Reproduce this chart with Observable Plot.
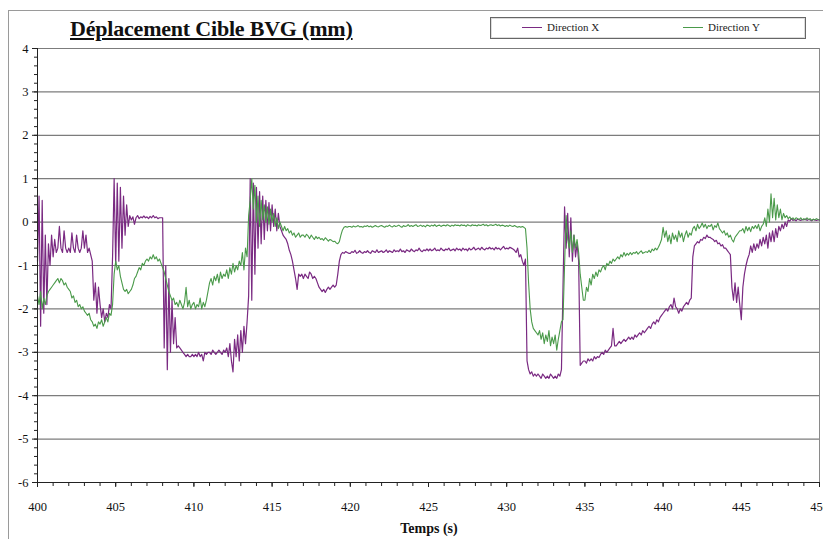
<!DOCTYPE html>
<html>
<head>
<meta charset="utf-8">
<script src="https://cdn.jsdelivr.net/npm/d3@7"></script>
<script src="https://cdn.jsdelivr.net/npm/@observablehq/plot@0.6"></script>
<style>
  html, body { margin: 0; padding: 0; background: #fff; }
  body { width: 823px; height: 539px; overflow: hidden; position: relative; font-family: "Liberation Serif", serif; }
  #outer { position: absolute; left: 8px; top: 10px; width: 900px; height: 700px; border: 1px solid #9a9a9a; }
  #chart { position: absolute; left: 0; top: 0; }
  #title { position: absolute; left: 70px; top: 16px; font: bold 22px "Liberation Serif", serif; text-decoration: underline; color: #111; white-space: nowrap; letter-spacing: -0.2px; }
  #legend { position: absolute; left: 490px; top: 17px; width: 314px; height: 20px; border: 1px solid #666; box-shadow: inset 0 0 0 1px #ddd; background: #fff; font: 11px "Liberation Serif", serif; color: #222; }
  .item { position: absolute; top: 3px; white-space: nowrap; }
  .sw { display: inline-block; width: 20px; height: 0; border-top: 1px solid; vertical-align: middle; margin-right: 5px; position: relative; top: -1px; }
  #xlabel { position: absolute; left: 0; width: 858px; text-align: center; top: 521px; font: bold 14px "Liberation Serif", serif; color: #111; }
</style>
</head>
<body>
<div id="outer"></div>
<div id="chart"></div>
<div id="title">Déplacement Cible BVG (mm)</div>
<div id="legend">
  <div class="item" style="left:31px"><span class="sw" style="border-color:#7a2a82"></span>Direction X</div>
  <div class="item" style="left:192px"><span class="sw" style="border-color:#4a9a4a"></span>Direction Y</div>
</div>
<div id="xlabel">Temps (s)</div>
<script>
// Time axis: samples every 0.1 s starting at 400 s
const tStart = 400;
const tStep = 0.1;

// Direction X (purple), one row per second (10 samples)
const dirX = [
  -0.9, 0.6, -2.4, 0.5, -2.1, -0.3, -1.9, -0.5, -1.0, -0.3,
  -0.8, -0.4, -0.7, -0.6, -0.1, -0.6, -0.7, -0.2, -0.6, -0.7,
  -0.6, -0.7, -0.25, -0.6, -0.7, -0.3, -0.6, -0.7, -0.6, -0.2,
  -0.6, -0.3, -0.7, -0.6, -0.75, -0.9, -1.8, -1.4, -2.1, -1.5,
  -1.9, -2.2, -2.0, -2.3, -2.1, -2.2, -1.9, -2.0, -0.8, 1.0,
  -1.0, 0.9, -0.9, 0.8, -0.6, 0.6, -0.3, 0.4, -0.1, 0.15,
  0.05, 0.12, -0.05, 0.1, 0.15, 0.08, 0.12, 0.1, 0.14, 0.1,
  0.12, 0.08, 0.13, 0.1, 0.15, 0.1, 0.12, 0.08, 0.1, 0.1,
  0.1, -2.9, -1.0, -3.4, -1.3, -3.0, -1.8, -2.8, -2.2, -2.9,
  -2.85, -2.9, -2.95, -3.0, -3.05, -3.1, -3.05, -3.1, -3.1, -3.05,
  -3.1, -3.05, -3.1, -3.0, -3.1, -3.05, -3.2, -3.0, -3.05, -3.0,
  -3.0, -3.05, -2.95, -3.0, -3.05, -3.0, -2.95, -3.0, -3.05, -2.95,
  -3.0, -2.9, -3.1, -2.8, -3.2, -3.45, -2.7, -3.1, -2.6, -3.2,
  -2.5, -3.0, -2.4, -2.8, -2.3, -1.7, 1.0, -1.8, 0.9, -1.2,
  0.8, -0.6, 0.7, -0.5, 0.6, -0.4, 0.5, -0.2, 0.45, -0.2,
  0.4, -0.1, 0.3, -0.2, 0.2, -0.1, -0.2, -0.3, -0.35, -0.4,
  -0.5, -0.65, -0.75, -0.9, -1.1, -1.3, -1.55, -1.2, -1.25, -1.2,
  -1.3, -1.2, -1.25, -1.3, -1.15, -1.2, -1.3, -1.25, -1.3, -1.4,
  -1.5, -1.55, -1.6, -1.55, -1.62, -1.55, -1.5, -1.55, -1.5, -1.45,
  -1.5, -1.45, -1.2, -0.9, -0.75, -0.7, -0.72, -0.68, -0.7, -0.72,
  -0.72, -0.68, -0.7, -0.65, -0.72, -0.7, -0.66, -0.7, -0.72, -0.68,
  -0.7, -0.66, -0.7, -0.72, -0.66, -0.68, -0.7, -0.64, -0.7, -0.68,
  -0.66, -0.7, -0.68, -0.64, -0.7, -0.66, -0.68, -0.7, -0.64, -0.68,
  -0.66, -0.68, -0.62, -0.68, -0.66, -0.7, -0.64, -0.66, -0.68, -0.62,
  -0.66, -0.68, -0.64, -0.66, -0.6, -0.66, -0.68, -0.64, -0.66, -0.62,
  -0.66, -0.62, -0.66, -0.64, -0.6, -0.66, -0.64, -0.66, -0.6, -0.64,
  -0.66, -0.62, -0.64, -0.6, -0.66, -0.64, -0.62, -0.66, -0.6, -0.64,
  -0.62, -0.66, -0.6, -0.64, -0.62, -0.66, -0.6, -0.64, -0.62, -0.58,
  -0.64, -0.62, -0.6, -0.64, -0.58, -0.62, -0.64, -0.6, -0.62, -0.58,
  -0.62, -0.6, -0.64, -0.58, -0.62, -0.6, -0.64, -0.6, -0.56, -0.62,
  -0.6, -0.62, -0.58, -0.6, -0.62, -0.65, -0.7, -0.6, -0.8, -0.75,
  -0.9, -1.0, -0.85, -3.2, -3.4, -3.5, -3.45, -3.55, -3.5, -3.55,
  -3.5, -3.55, -3.6, -3.5, -3.55, -3.6, -3.55, -3.6, -3.5, -3.55,
  -3.6, -3.55, -3.6, -3.5, -3.55, -3.4, -1.5, 0.35, -0.6, 0.2,
  -0.8, 0.1, -0.9, -0.3, -0.8, -0.5, -0.9, -3.3, -3.25, -3.2,
  -3.2, -3.25, -3.15, -3.2, -3.15, -3.2, -3.1, -3.15, -3.1, -3.12,
  -3.05, -3.0, -3.05, -2.95, -3.0, -2.95, -2.9, -2.85, -2.45, -2.85,
  -2.85, -2.8, -2.75, -2.8, -2.75, -2.7, -2.75, -2.7, -2.65, -2.7,
  -2.65, -2.7, -2.6, -2.65, -2.6, -2.55, -2.6, -2.5, -2.55, -2.5,
  -2.45, -2.4, -2.45, -2.35, -2.3, -2.35, -2.25, -2.3, -2.2, -2.15,
  -2.1, -2.05, -2.0, -2.05, -1.95, -1.9, -2.0, -1.75, -1.95, -2.0,
  -2.1, -2.0, -2.05, -1.95, -1.9, -1.85, -1.9, -1.8, -1.75, -0.8,
  -0.55, -0.5, -0.45, -0.48, -0.4, -0.42, -0.35, -0.38, -0.3, -0.35,
  -0.35, -0.38, -0.4, -0.45, -0.42, -0.5, -0.48, -0.55, -0.52, -0.6,
  -0.6, -0.65, -0.7, -0.75, -1.5, -1.8, -1.4, -1.85, -1.5, -1.9,
  -2.25, -1.5, -1.2, -1.0, -0.85, -0.75, -0.55, -0.7, -0.5, -0.65,
  -0.5, -0.6, -0.4, -0.55, -0.35, -0.5, -0.3, -0.6, -0.25, -0.45,
  -0.2, -0.45, -0.15, -0.35, -0.1, -0.2, -0.05, -0.15, 0.0, -0.1,
  0.05, 0.02, 0.08, 0.04, 0.06, 0.03, 0.07, 0.05, 0.04, 0.06,
  0.05, 0.07, 0.04, 0.06, 0.05, 0.03, 0.06, 0.05, 0.04, 0.05,
  0.05
];

// Direction Y (green), one row per second (10 samples)
const dirY = [
  -1.7, -1.9, -1.6, -2.0, -1.75, -1.9, -1.7, -1.6, -1.55, -1.5,
  -1.45, -1.4, -1.35, -1.3, -1.4, -1.3, -1.35, -1.45, -1.4, -1.5,
  -1.55, -1.6, -1.75, -1.7, -1.85, -1.8, -1.95, -1.9, -2.0, -1.95,
  -2.05, -2.1, -2.15, -2.1, -2.25, -2.3, -2.4, -2.35, -2.45, -2.3,
  -2.35, -2.25, -2.4, -2.3, -2.2, -2.3, -2.1, -2.15, -1.9, -1.2,
  -0.9, -1.1, -1.0, -1.25, -1.4, -1.55, -1.6, -1.55, -1.65, -1.6,
  -1.55, -1.45, -1.3, -1.25, -1.15, -1.05, -1.1, -0.95, -1.0, -0.9,
  -0.85, -0.9, -0.8, -0.85, -0.75, -0.85, -0.8, -0.9, -0.85, -0.95,
  -1.05, -1.15, -1.3, -1.45, -1.6, -1.7, -1.8, -1.75, -1.9, -1.85,
  -1.95, -1.8, -1.9, -2.0, -1.85, -1.5, -1.95, -1.8, -2.0, -1.9,
  -1.85, -2.0, -1.9, -1.95, -1.75, -2.0, -1.85, -1.95, -1.8, -1.6,
  -1.4, -1.3, -1.45, -1.25, -1.35, -1.2, -1.4, -1.15, -1.3, -1.2,
  -1.25, -1.1, -1.3, -1.05, -1.2, -0.95, -1.15, -1.0, -1.1, -0.9,
  -1.0, -0.7, -1.1, -0.6, -0.8, 0.15, 0.5, 1.0, 0.3, 0.85,
  0.0, 0.6, -0.1, 0.5, 0.05, 0.4, 0.0, 0.35, -0.05, 0.3,
  0.0, 0.2, -0.1, 0.1, -0.15, 0.0, -0.1, -0.2, -0.1, -0.2,
  -0.15, -0.25, -0.2, -0.3, -0.25, -0.35, -0.3, -0.25, -0.35, -0.3,
  -0.3, -0.35, -0.28, -0.32, -0.38, -0.3, -0.35, -0.4, -0.33, -0.38,
  -0.35, -0.4, -0.38, -0.42, -0.36, -0.4, -0.44, -0.4, -0.42, -0.45,
  -0.44, -0.48, -0.5, -0.45, -0.3, -0.18, -0.12, -0.1, -0.12, -0.1,
  -0.1, -0.12, -0.09, -0.11, -0.1, -0.08, -0.11, -0.1, -0.12, -0.09,
  -0.1, -0.08, -0.11, -0.09, -0.12, -0.1, -0.08, -0.1, -0.11, -0.09,
  -0.08, -0.1, -0.12, -0.09, -0.1, -0.07, -0.1, -0.11, -0.08, -0.1,
  -0.09, -0.07, -0.1, -0.12, -0.08, -0.1, -0.09, -0.06, -0.1, -0.08,
  -0.1, -0.08, -0.06, -0.1, -0.09, -0.07, -0.1, -0.08, -0.11, -0.07,
  -0.08, -0.1, -0.07, -0.09, -0.06, -0.1, -0.08, -0.07, -0.1, -0.08,
  -0.07, -0.09, -0.06, -0.08, -0.1, -0.07, -0.09, -0.06, -0.08, -0.07,
  -0.09, -0.06, -0.08, -0.07, -0.1, -0.06, -0.08, -0.09, -0.06, -0.08,
  -0.07, -0.09, -0.06, -0.08, -0.07, -0.05, -0.08, -0.06, -0.09, -0.07,
  -0.06, -0.08, -0.07, -0.05, -0.08, -0.06, -0.09, -0.07, -0.08, -0.1,
  -0.08, -0.1, -0.07, -0.09, -0.1, -0.08, -0.1, -0.12, -0.1, -0.12,
  -0.1, -0.12, -0.15, -0.6, -1.4, -2.0, -2.3, -2.45, -2.5, -2.55,
  -2.6, -2.5, -2.7, -2.55, -2.8, -2.6, -2.75, -2.5, -2.85, -2.65,
  -2.8, -2.6, -2.95, -2.7, -2.5, -2.3, -2.25, -1.0, 0.15, -0.4,
  -0.6, -0.2, -0.7, -0.3, -0.6, -0.4, -0.7, -1.2, -1.5, -1.8,
  -1.8, -1.5, -1.6, -1.3, -1.45, -1.2, -1.3, -1.15, -1.25, -1.1,
  -1.15, -1.05, -1.0, -1.1, -0.95, -1.0, -0.9, -0.95, -0.85, -0.9,
  -0.85, -0.8, -0.85, -0.75, -0.8, -0.7, -0.78, -0.72, -0.76, -0.7,
  -0.75, -0.7, -0.72, -0.68, -0.74, -0.7, -0.66, -0.72, -0.7, -0.68,
  -0.7, -0.65, -0.7, -0.62, -0.66, -0.6, -0.64, -0.58, -0.5, -0.4,
  -0.12, -0.35, -0.2, -0.45, -0.3, -0.5, -0.25, -0.4, -0.3, -0.45,
  -0.2, -0.35, -0.25, -0.45, -0.3, -0.2, -0.35, -0.25, -0.3, -0.15,
  -0.1, -0.2, -0.05, -0.15, -0.1, -0.02, -0.12, -0.05, -0.15, -0.08,
  -0.1, -0.05, -0.18, -0.08, -0.12, -0.02, -0.15, -0.2, -0.25, -0.2,
  -0.3, -0.25, -0.35, -0.3, -0.4, -0.46, -0.35, -0.3, -0.25, -0.2,
  -0.2, -0.15, -0.25, -0.1, -0.2, -0.12, -0.22, -0.1, -0.15, -0.08,
  -0.15, -0.05, -0.2, -0.1, -0.05, 0.1, -0.1, 0.3, 0.0, 0.65,
  0.1, 0.55, 0.05, 0.4, 0.1, 0.3, 0.05, 0.2, 0.1, 0.15,
  0.08, 0.12, 0.06, 0.1, 0.05, 0.1, 0.08, 0.06, 0.1, 0.05,
  0.08, 0.05, 0.1, 0.06, 0.08, 0.04, 0.07, 0.05, 0.08, 0.06,
  0.05
];

const xTicks = [400, 405, 410, 415, 420, 425, 430, 435, 440, 445, 450];
const yTicks = [-6, -5, -4, -3, -2, -1, 0, 1, 2, 3, 4];
const xMinorTicks = d3.range(400, 451, 1);
const yMinorTicks = d3.range(-30, 21).map(k => k / 5);

const colorX = "#7a2a82";
const colorY = "#4a9a4a";

const rowsX = dirX.map((v, i) => ({t: tStart + i * tStep, v}));
const rowsY = dirY.map((v, i) => ({t: tStart + i * tStep, v}));

const chart = Plot.plot({
  width: 823,
  height: 539,
  marginLeft: 37,
  marginRight: 4,
  marginTop: 48,
  marginBottom: 57,
  x: {domain: [400, 450], label: null},
  y: {domain: [-6, 4], label: null},
  style: {fontFamily: "Liberation Serif, serif", fontSize: "12px", background: "transparent", color: "#111", overflow: "hidden"},
  marks: [
    Plot.gridY(yTicks, {stroke: "#7c7c7c", strokeOpacity: 1, strokeWidth: 1.2}),
    Plot.ruleX([450], {stroke: "#8a8a8a"}),
    Plot.line(rowsX, {x: "t", y: "v", stroke: colorX, strokeWidth: 1.2}),
    Plot.line(rowsY, {x: "t", y: "v", stroke: colorY, strokeWidth: 1.1}),
    Plot.ruleY([-6], {stroke: "#222"}),
    Plot.ruleX([400], {stroke: "#222"}),
    Plot.axisY(yMinorTicks, {tickSize: 3, tickFormat: () => "", label: null, stroke: "#222"}),
    Plot.axisY(yTicks, {tickSize: 5, tickPadding: 4, tickFormat: d => String(d), label: null, fontSize: 12.5, stroke: "#222"}),
    Plot.axisX(xMinorTicks, {tickSize: 4, tickFormat: () => "", label: null, stroke: "#222"}),
    Plot.axisX(xTicks, {tickSize: 5, tickPadding: 15, tickFormat: d => String(d), label: null, fontSize: 12.5, stroke: "#222"})
  ]
});
document.getElementById("chart").appendChild(chart);
</script>
</body>
</html>
